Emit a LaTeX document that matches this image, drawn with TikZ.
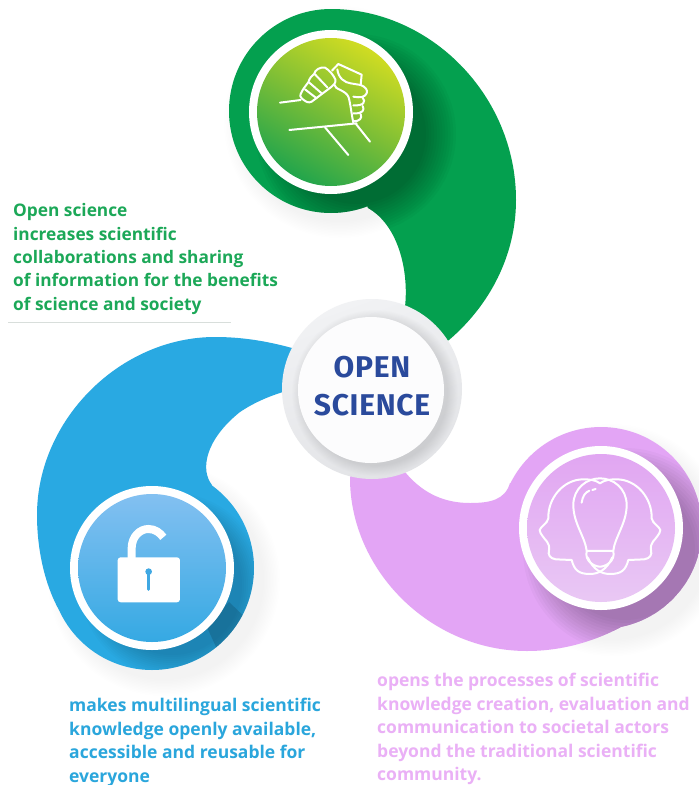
\documentclass[tikz,border=0pt]{standalone}
\usepackage{fontspec}
\setmainfont{Open Sans}
\newfontfamily\titlefont[LetterSpace=2.4]{Fira Sans}
\definecolor{gblob}{HTML}{04A04F}
\definecolor{bblob}{HTML}{29A9E2}
\definecolor{pblob}{HTML}{E3A5F5}
\definecolor{gtext}{HTML}{1CA858}
\definecolor{btext}{HTML}{2AA6DC}
\definecolor{ptext}{HTML}{EAB0F6}
\definecolor{navy}{HTML}{2A4A9C}
\definecolor{gdisctop}{HTML}{D0DC22}
\definecolor{gdiscmid}{HTML}{7CBE36}
\definecolor{gdiscbot}{HTML}{22A54C}
\definecolor{bdisctop}{HTML}{83C0F1}
\definecolor{bdiscbot}{HTML}{35A9E3}
\definecolor{pdisctop}{HTML}{E1A6F2}
\definecolor{pdiscbot}{HTML}{E9C8F4}
\definecolor{bdot}{HTML}{3FA8E3}
\definecolor{cringtop}{HTML}{F1F2F4}
\definecolor{cringbot}{HTML}{E2E3E6}
\definecolor{cface}{HTML}{FCFCFD}
\definecolor{rulegray}{HTML}{D8DEDB}
\tikzset{
  bodytext/.style={anchor=north west,inner sep=0pt,align=left,font=\fontsize{17.5}{23.4}\selectfont\bfseries},
  titletext/.style={navy,inner sep=0pt,font=\titlefont\bfseries\fontsize{30}{30}\selectfont},
  icon/.style={draw=white,line width=2pt,line cap=round,line join=round},
  ringdisc/.style={circle,fill=white,minimum size=164pt,inner sep=0pt},
  facedisc/.style={circle,minimum size=148pt,inner sep=0pt},
}
\newcommand{\softcircles}[6]{% x y rmin rmax colour opacity
  \foreach \k in {0,...,11}{
    \pgfmathsetmacro{\rr}{#4-(#4-#3)*\k/11}
    \fill[#5,opacity=#6] (#1,#2) circle[radius=\rr];
  }}
\newcommand{\greenblob}{(331,9) .. controls (430,9) and (516,95) .. (516,200) .. controls (516,255) and (490,305) .. (449,340) -- (372,389) -- (405,307) .. controls (409,270) and (398,225) .. (368,208) -- (331,111) -- cycle (331,111) circle[radius=102]}
\newcommand{\blueblob}{(65,620) .. controls (45,590) and (37,550) .. (37,515) .. controls (37,420) and (120,337) .. (215,337) .. controls (245,337) and (270,342) .. (292,348) -- (372,389) -- (283,392) .. controls (270,396) and (255,402) .. (240,412) .. controls (205,440) and (200,470) .. (212,485) -- (152,568) -- cycle (152,568) circle[radius=102]}
\newcommand{\pinkblob}{(405,472) .. controls (420,490) and (440,503) .. (470,503) .. controls (490,503) and (505,500) .. (510,483) -- (601,528) -- (687,577) .. controls (640,625) and (585,651) .. (527,651) .. controls (430,651) and (350,570) .. (350,478) -- (372,389) -- cycle (601,528) circle[radius=101]}
\newcommand{\headpath}{(232,262) .. controls (215,300) and (190,312) .. (165,312) .. controls (130,312) and (118,300) .. (110,270) -- (62,268) .. controls (45,265) and (38,255) .. (42,240) .. controls (44,228) and (40,222) .. (36,215) .. controls (28,205) and (14,190) .. (14,180) .. controls (16,170) and (38,160) .. (40,145) .. controls (38,85) and (85,28) .. (145,28) .. controls (165,28) and (182,30) .. (195,40)}
\begin{document}
\begin{tikzpicture}[x=1pt,y=-1pt]
\useasboundingbox (0,0) rectangle (699,785);
\fill[white] (0,0) rectangle (699,785);

% soft shadows falling outside the blobs
\softcircles{340}{122}{100}{116}{black}{0.003}
\softcircles{164}{580}{100}{116}{black}{0.003}
\softcircles{612}{540}{100}{116}{black}{0.003}

% blobs
\fill[gblob] \greenblob;
\fill[bblob] \blueblob;
\fill[pblob] \pinkblob;

% shadows on the blobs
\begin{scope}
  \clip \greenblob;
  \softcircles{356}{134}{70}{100}{black}{0.028}
\end{scope}
\begin{scope}
  \clip \blueblob;
  \softcircles{172}{585}{70}{92}{black}{0.015}
  \fill[black,opacity=0.14] (206,625) -- (229,602) -- (250,622) -- (222,660) -- cycle;
\end{scope}
\begin{scope}
  \clip \pinkblob;
  \softcircles{625}{550}{70}{102}{black}{0.024}
\end{scope}

% icon discs
\node[ringdisc] (gring) at (331,112) {};
\node[facedisc,top color=gdisctop,bottom color=gdiscbot,middle color=gdiscmid,shading angle=-30] (gdisc) at (331,112) {};
\node[ringdisc] (bring) at (152,568) {};
\node[facedisc,top color=bdisctop,bottom color=bdiscbot] (bdisc) at (152,568) {};
\node[ringdisc] (pring) at (601,528) {};
\node[facedisc,top color=pdisctop,bottom color=pdiscbot] (pdisc) at (601,528) {};

% handshake icon
\begin{scope}[shift={(270,50)},x=.3333pt,y=-.3333pt]
  \draw[icon] (30,158) -- (92,150);
  \draw[icon] (92,132) .. controls (98,118) and (105,110) .. (115,97) .. controls (118,85) and (125,78) .. (132,72) .. controls (135,60) and (150,50) .. (165,53) .. controls (178,60) and (190,75) .. (196,88) .. controls (198,98) and (192,105) .. (185,110) -- (125,155) .. controls (115,160) and (108,156) .. (95,145) .. controls (90,140) and (90,136) .. (92,132) -- cycle;
  \draw[icon] (105,118) -- (140,145);
  \draw[icon] (118,98) -- (155,130);
  \draw[icon] (134,72) -- (172,112);
  \draw[icon] (186,62) -- (205,42) -- (275,74) -- (272,105) -- (242,100) .. controls (225,98) and (205,85) .. (202,58);
  \draw[icon] (272,105) .. controls (285,110) and (295,120) .. (290,130) .. controls (285,142) and (270,144) .. (250,140);
  \draw[icon] (278,143) .. controls (288,155) and (282,168) .. (250,166);
  \draw[icon] (278,168) .. controls (285,180) and (278,192) .. (250,190);
  \draw[icon] (272,192) .. controls (278,205) and (268,214) .. (250,214);
  \draw[icon] (194,105) .. controls (192,118) and (228,120) .. (236,142) .. controls (242,165) and (244,190) .. (250,218);
  \draw[icon] (58,240) -- (160,230) -- (260,220);
  \draw[icon] (165,232) -- (235,315);
  \draw[icon] (258,222) -- (300,275);
\end{scope}

% padlock icon
\begin{scope}[shift={(40,340)},x=.3333pt,y=-.3333pt]
  \draw[white,line width=8pt] (275,660) -- (275,625) .. controls (275,590) and (300,567) .. (325,567) .. controls (345,567) and (360,578) .. (370,592);
  \fill[white,rounded corners=3pt] (233,652) rectangle (420,787);
  \fill[bdot] (326,695) circle[radius=10];
  \draw[bdot,line width=3.2pt,line cap=round] (326,695) -- (326,748);
\end{scope}

% two heads and light bulb icon
\begin{scope}[shift={(535,470)},x=.3333pt,y=-.3333pt]
  \draw[icon] \headpath;
  \begin{scope}[shift={(390,0)},xscale=-1]
    \draw[icon] \headpath;
  \end{scope}
  \draw[icon] (155,242) .. controls (150,200) and (115,160) .. (115,105) .. controls (115,55) and (155,25) .. (195,25) .. controls (235,25) and (275,55) .. (275,105) .. controls (275,160) and (240,200) .. (235,242);
  \draw[icon] (155,243) -- (235,243) .. controls (242,275) and (210,290) .. (195,290) .. controls (180,290) and (148,275) .. (155,243) -- cycle;
  \draw[icon] (140,98) .. controls (143,78) and (150,68) .. (163,62);
  \draw[icon] (172,60) -- (182,57);
\end{scope}

% centre disc
\node[circle,minimum size=180pt,inner sep=0pt,top color=cringtop,bottom color=cringbot,shading angle=20] (cring) at (372,389) {};
\begin{scope}
  \clip (372,389) circle[radius=90];
  \softcircles{375}{393}{73}{83}{black}{0.008}
\end{scope}
\node[circle,fill=cface,minimum size=146pt,inner sep=0pt] (cdisc) at (371,390) {};
\node[titletext] (t1) at (372,367.5) {OPEN};
\node[titletext] (t2) at (372,405.5) {SCIENCE};

% texts
\node[bodytext,text=gtext,font=\fontsize{17.3}{23.4}\selectfont\bfseries] (gtxt) at (13,203.3) {Open science\\increases scientific\\collaborations and sharing\\of information for the benefits\\of science and society};
\draw[rulegray,line width=1pt] (8,322) -- (231,322);
\node[bodytext,text=btext] (btxt) at (69,698.3) {makes multilingual scientific\\knowledge openly available,\\accessible and reusable for\\everyone};
\node[bodytext,text=ptext] (ptxt) at (377,673.3) {opens the processes of scientific\\knowledge creation, evaluation and\\communication to societal actors\\beyond the traditional scientific\\community.};
\end{tikzpicture}
\end{document}
